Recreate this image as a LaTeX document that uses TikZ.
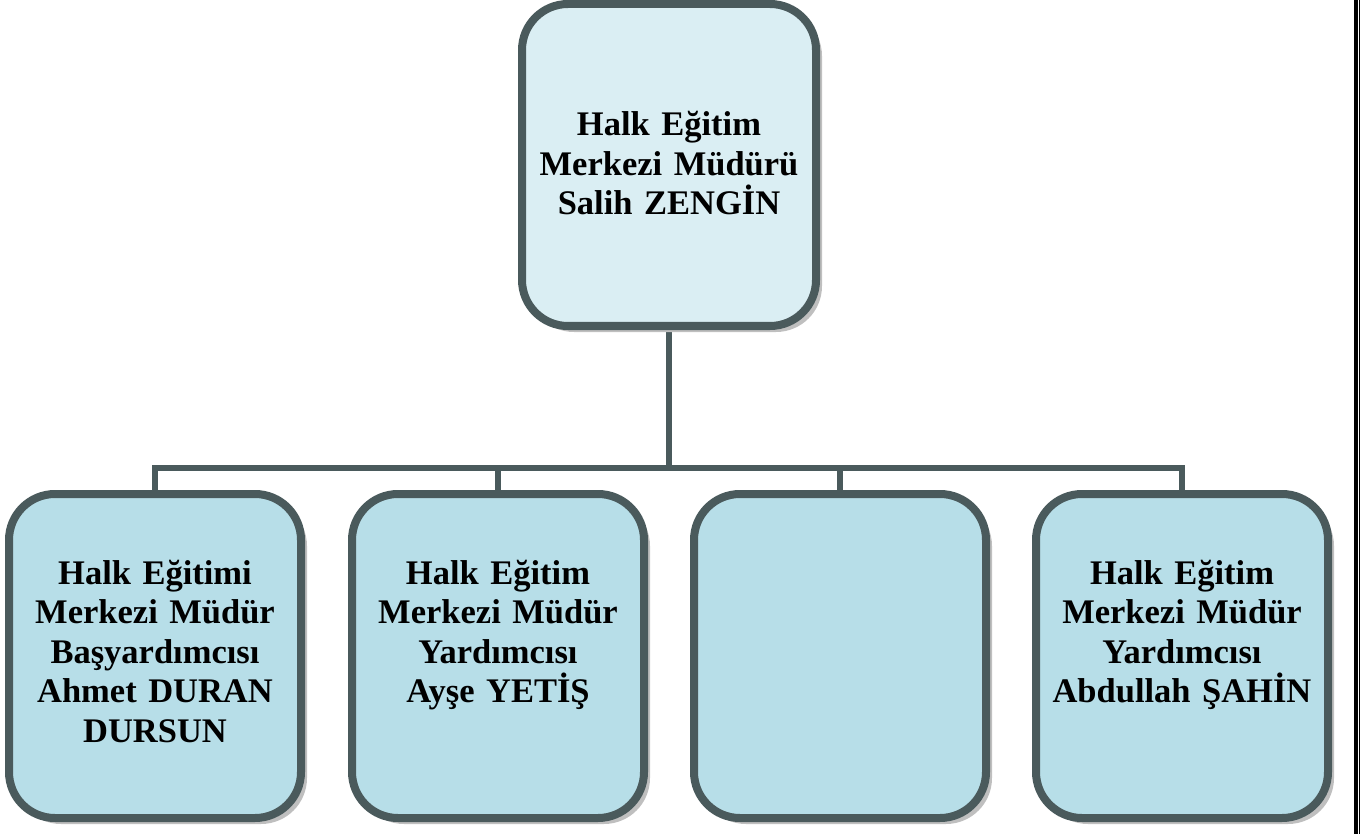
\documentclass[tikz,border=0pt]{standalone}
\usepackage{fontspec}
\setmainfont{Liberation Serif}
\usetikzlibrary{shadows,backgrounds}
\definecolor{edge}{HTML}{4A5A5C}
\definecolor{topfill}{HTML}{DAEEF3}
\definecolor{subfill}{HTML}{B7DEE8}
\definecolor{shade}{HTML}{BFBFBF}
\begin{document}
\begin{tikzpicture}[x=1pt,y=-1pt,
  box/.style={draw=edge, line width=8pt, rounded corners=46pt,
    drop shadow={shadow xshift=6pt, shadow yshift=-6pt, fill=shade, opacity=1}},
  topbox/.style={box, fill=topfill, minimum width=294pt, minimum height=322pt},
  subbox/.style={box, fill=subfill, minimum width=292pt, minimum height=324pt},
  txt/.style={font=\bfseries\fontsize{34.5}{39.5}\selectfont, align=center,
    text width=290pt, inner sep=0pt, anchor=base},
  conn/.style={draw=edge, line width=6pt}]
\useasboundingbox (0,0) rectangle (1360,834);

\node[topbox] (top) at (669,165) {};
\node[subbox] (b1) at (155,656) {};
\node[subbox] (b2) at (498,656) {};
\node[subbox] (b3) at (840,656) {};
\node[subbox] (b4) at (1182,656) {};

\node[txt] (t0) at (669,136) {Halk Eğitim\\Merkezi Müdürü\\Salih ZENGİN};
\node[txt] (t1) at (155,584) {Halk Eğitimi\\Merkezi Müdür\\Başyardımcısı\\Ahmet DURAN\\DURSUN};
\node[txt] (t2) at (498,584) {Halk Eğitim\\Merkezi Müdür\\Yardımcısı\\Ayşe YETİŞ};
\node[txt] (t4) at (1182,584) {Halk Eğitim\\Merkezi Müdür\\Yardımcısı\\Abdullah ŞAHİN};

\coordinate (bar) at (669,468);
\begin{scope}[on background layer]
  \draw[conn] (top.south) -- (top.south |- bar);
  \draw[conn] (b1.north) -- (b1.north |- bar) -- (b4.north |- bar) -- (b4.north);
  \draw[conn] (b2.north) -- (b2.north |- bar);
  \draw[conn] (b3.north) -- (b3.north |- bar);
\end{scope}

\fill[black] (1354,0) rectangle (1358,834);
\fill[black] (1359,0) rectangle (1360,834);
\end{tikzpicture}
\end{document}
